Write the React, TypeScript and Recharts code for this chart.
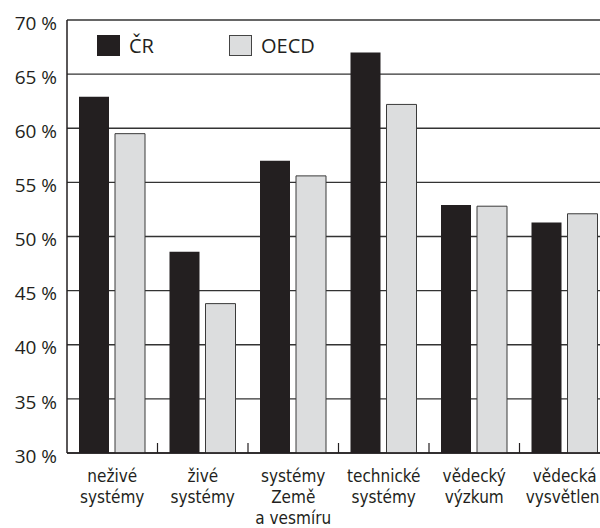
import React from "react";
import { BarChart, Bar, XAxis, YAxis, CartesianGrid, Legend } from "recharts";

const categories = [
  "neživé\nsystémy",
  "živé\nsystémy",
  "systémy\nZemě\na vesmíru",
  "technické\nsystémy",
  "vědecký\nvýzkum",
  "vědecká\nvysvětlení",
];
const crValues = [62.9, 48.6, 57.0, 67.0, 52.9, 51.3];
const oecdValues = [59.5, 43.8, 55.6, 62.2, 52.8, 52.1];
const yTicks = [30, 35, 40, 45, 50, 55, 60, 65, 70];
const seriesNames = ["ČR", "OECD"];

const data = categories.map((c, i) => ({ cat: c, cr: crValues[i], oecd: oecdValues[i] }));

const INK = "#231f20";
const GRAY = "#dcddde";
const LABEL_FONT = "'Liberation Sans Narrow', 'DejaVu Sans Condensed', 'Open Sans', sans-serif";
const TICK_FONT = "'Open Sans', sans-serif";

const XTick = (props: any) => {
  const { x, y, payload, index, width } = props;
  const band = (width || 543) / categories.length;
  const lines = String(payload.value).split("\n");
  return (
    <g>
      {index > 0 && (
        <line x1={x - band / 2} x2={x - band / 2} y1={y} y2={y - 10} stroke={INK} strokeWidth={1.2} />
      )}
      <text x={x} y={y + 29} textAnchor="middle" fill={INK} fontSize={17} fontFamily={LABEL_FONT}>
        {lines.map((l, i) => (
          <tspan key={i} x={x} dy={i === 0 ? 0 : 21}>
            {l}
          </tspan>
        ))}
      </text>
    </g>
  );
};

const YTick = (props: any) => {
  const { x, y, payload } = props;
  return (
    <text x={x} y={y + 3} dy="0.35em" textAnchor="end" fill={INK} fontSize={19} fontFamily={TICK_FONT}>
      {`${payload.value} %`}
    </text>
  );
};

const LegendContent = () => (
  <div style={{ display: "flex", alignItems: "center", fontFamily: TICK_FONT, fontSize: 20, color: INK }}>
    {seriesNames.map((n, i) => (
      <div key={n} style={{ display: "flex", alignItems: "center", width: i === 0 ? 132 : 120 }}>
        <div
          style={{
            width: 23,
            height: 21,
            background: i === 0 ? INK : GRAY,
            border: `1px solid ${i === 0 ? INK : "#444"}`,
            boxSizing: "border-box",
            marginRight: 9,
          }}
        />
        <span style={{ lineHeight: "21px" }}>{n}</span>
      </div>
    ))}
  </div>
);

export default function App() {
  return (
    <div style={{ position: "fixed", left: 0, top: 0, width: 600, height: 528, overflow: "hidden", background: "#fff" }}>
      <BarChart
        width={620}
        height={528}
        data={data}
        margin={{ top: 20, right: 10, bottom: 0, left: 0 }}
        barCategoryGap="13.7%"
        barGap={6}
      >
        <CartesianGrid vertical={false} stroke="#333" strokeWidth={1.3} />
        <XAxis
          dataKey="cat"
          height={75}
          interval={0}
          tickSize={0}
          tickMargin={0}
          tickLine={false}
          axisLine={{ stroke: INK, strokeWidth: 1.5 }}
          tick={<XTick />}
        />
        <YAxis
          width={67}
          domain={[30, 70]}
          ticks={yTicks}
          allowDataOverflow
          tickSize={0}
          tickMargin={10}
          tickLine={false}
          axisLine={{ stroke: INK, strokeWidth: 1.5 }}
          tick={<YTick />}
        />
        <Legend
          layout="horizontal"
          verticalAlign="middle"
          align="center"
          content={<LegendContent />}
          wrapperStyle={{ top: 35, left: 97, width: 300, height: 22 }}
        />
        <Bar dataKey="cr" name="ČR" fill={INK} barSize={30} isAnimationActive={false} />
        <Bar dataKey="oecd" name="OECD" fill={GRAY} stroke="#3a3a3a" strokeWidth={1} barSize={30} isAnimationActive={false} />
      </BarChart>
    </div>
  );
}
